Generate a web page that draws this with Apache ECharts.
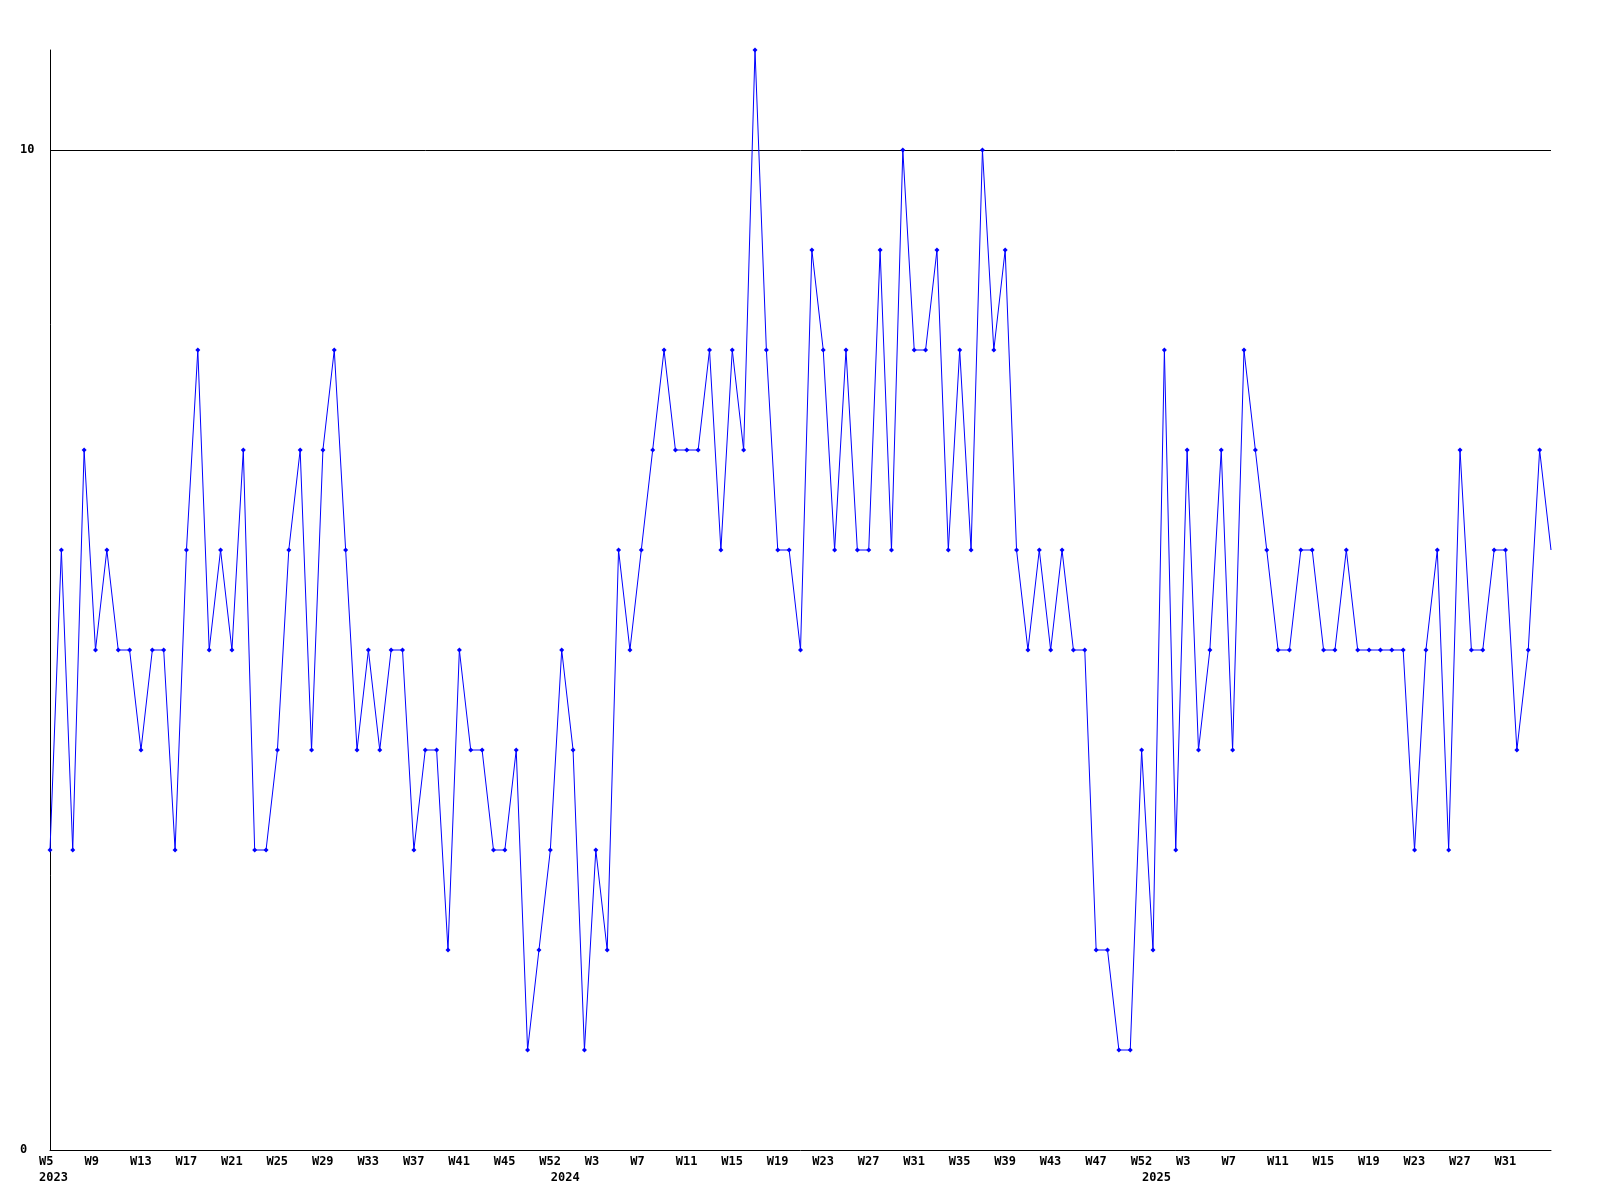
<!DOCTYPE html>
<html><head><meta charset="utf-8">
<script src="https://cdn.jsdelivr.net/npm/echarts@6/dist/echarts.min.js"></script>
<style>html,body{margin:0;padding:0;background:#fff}#c{width:1600px;height:1200px}</style>
</head><body><div id="c"></div>
<script>
// weekly values, one per point (2023 W5 ... 2025)
const values = [3,6,3,7,5,6,5,5,4,5,5,3,6,8,5,6,5,7,3,3,4,6,7,4,7,8,6,4,5,4,5,5,3,4,4,2,5,4,4,3,3,4,1,2,3,5,4,1,3,2,
  6,5,6,7,8,7,7,7,8,6,8,7,11,8,6,6,5,9,8,6,8,6,6,9,6,10,8,8,9,6,8,6,10,8,9,6,5,6,5,6,5,5,2,2,1,1,4,2,8,3,
  7,4,5,7,4,8,7,6,5,5,6,6,5,5,6,5,5,5,5,5,3,5,6,3,7,5,5,6,6,4,5,7,6];
// week tick labels, shown on every 4th point
const weekTicks = ['W5','W9','W13','W17','W21','W25','W29','W33','W37','W41','W45','W52',
  'W3','W7','W11','W15','W19','W23','W27','W31','W35','W39','W43','W47','W52',
  'W3','W7','W11','W15','W19','W23','W27','W31'];
const tickStep = 4;
// year labels: [text, point index where the year starts]
const yearLabels = [['2023', 0], ['2024', 45], ['2025', 97]];
const yTicks = [0, 10];

const categories = values.map((_, i) => 'p' + i);
const labelText = values.map((_, i) => {
  let s = (i % tickStep === 0 && weekTicks[i / tickStep]) ? weekTicks[i / tickStep] : '';
  const y = yearLabels.find(d => d[1] === i);
  if (y) s += '\n' + y[0];
  return s;
});
// the point on the right border has its marker clipped in the reference
const seriesData = values.map((v, i) => i === values.length - 1 ? { value: v, symbol: 'none' } : v);

const font = { fontFamily: 'DejaVu Sans Mono', fontWeight: 'bold', fontSize: 12, color: '#000' };
const chart = echarts.init(document.getElementById('c'), null, { renderer: 'canvas' });
chart.setOption({
  animation: false,
  backgroundColor: '#fff',
  grid: { left: 50, right: 49, top: 50, bottom: 50, containLabel: false },
  xAxis: {
    type: 'category', data: categories, boundaryGap: false,
    axisLine: { show: true, lineStyle: { color: '#000', width: 1 } },
    axisTick: { show: false },
    splitLine: { show: false },
    axisLabel: Object.assign({
      interval: 0, margin: 4, align: 'left', verticalAlign: 'top', lineHeight: 16,
      padding: [0, 0, 0, -11],
      formatter: (v, i) => labelText[i]
    }, font)
  },
  yAxis: {
    type: 'value', min: yTicks[0], max: 11, interval: yTicks[1] - yTicks[0],
    axisLine: { show: true, lineStyle: { color: '#000', width: 1 } },
    axisTick: { show: false },
    splitLine: { show: true, showMaxLine: false, showMinLine: false, lineStyle: { color: '#000', width: 1 } },
    axisLabel: Object.assign({ align: 'left', margin: 30, showMaxLabel: false }, font)
  },
  series: [{
    type: 'line', data: seriesData,
    showAllSymbol: true, symbol: 'diamond', symbolSize: 5,
    itemStyle: { color: '#0000ff' },
    lineStyle: { color: '#0000ff', width: 1 }
  }]
});
</script></body></html>
